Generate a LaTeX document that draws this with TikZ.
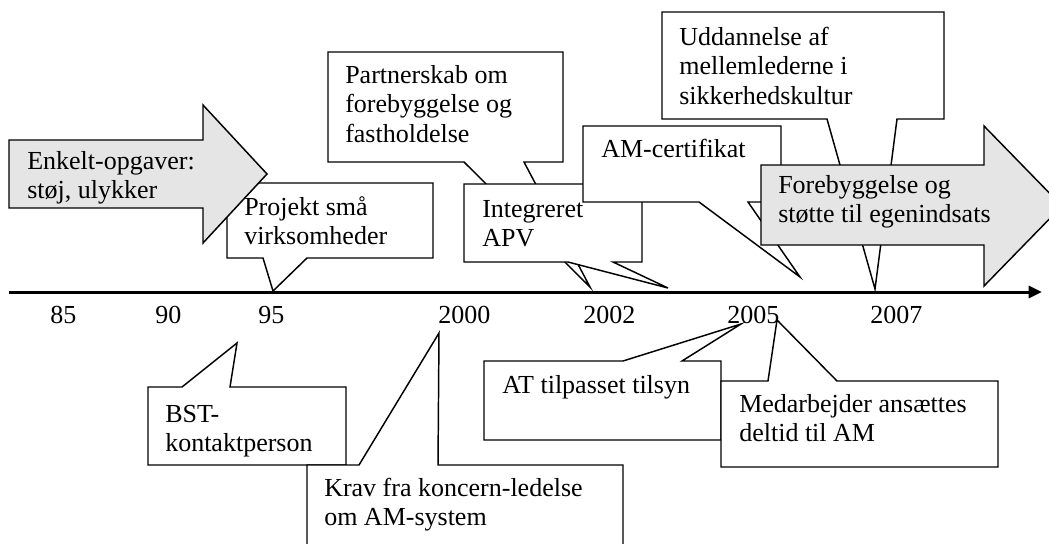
\documentclass[tikz,border=0pt]{standalone}
\usepackage{fontspec}
\setmainfont{Liberation Serif}
\usetikzlibrary{arrows.meta}
% top-aligned block of lines: baseline of the block is the first line
\newcommand\txtlines[1]{\begin{tabular}[t]{@{}l@{}}#1\end{tabular}}
\begin{document}
\begin{tikzpicture}[x=0.75pt, y=-0.75pt,
  outline/.style={draw=black, line width=1.1pt, line join=miter},
  callout/.style={outline, fill=white},
  banner/.style={outline, fill=black!10},
  boxtext/.style={anchor=base west, inner sep=0pt, font=\fontsize{19.5pt}{22.2pt}\selectfont},
  axis/.style={line width=2.25pt, -{Triangle[length=10pt,width=9pt]}}]

\useasboundingbox (0,0) rectangle (1049,543);
\clip (0,0) rectangle (1049,543);

% ---------- upper callouts (back to front) ----------
% Partnerskab
\draw[callout] (328,52) -- (563,52) -- (563,162) -- (524,162) -- (590,287)
  -- (464,162) -- (328,162) -- cycle;
\node[boxtext] (t-partner) at (345,83) {\txtlines{Partnerskab om\\forebyggelse og\\fastholdelse}};

% Integreret APV
\draw[callout] (464,184) -- (642,184) -- (642,262) -- (613,262) -- (668,288)
  -- (568,262) -- (464,262) -- cycle;
\node[boxtext] (t-apv) at (482,217) {\txtlines{Integreret\\APV}};

% AM-certifikat
\draw[callout] (583,126) -- (781,126) -- (781,202) -- (748,202) -- (800,277)
  -- (699,202) -- (583,202) -- cycle;
\node[boxtext] (t-cert) at (601,157) {AM-certifikat};

% Uddannelse
\draw[callout] (662,12) -- (944,12) -- (944,119) -- (897,119) -- (875,289)
  -- (827,119) -- (662,119) -- cycle;
\node[boxtext] (t-udd) at (679,45) {\txtlines{Uddannelse af\\mellemlederne i\\sikkerhedskultur}};

% Forebyggelse banner arrow
\draw[banner] (761,165) -- (984,165) -- (984,126) -- (1062,206) -- (984,286)
  -- (984,245) -- (761,245) -- cycle;
\node[boxtext] (t-fore) at (778,193) {\txtlines{Forebyggelse og\\støtte til egenindsats}};

% Projekt små virksomheder
\draw[callout] (227,183) -- (433,183) -- (433,258) -- (307,258) -- (273,291)
  -- (263,258) -- (227,258) -- cycle;
\node[boxtext] (t-proj) at (244,215) {\txtlines{Projekt små\\virksomheder}};

% Enkelt-opgaver banner arrow
\draw[banner] (9,140) -- (203,140) -- (203,105) -- (267,174) -- (203,243)
  -- (203,208) -- (9,208) -- cycle;
\node[boxtext] (t-enkelt) at (27,169) {\txtlines{Enkelt-opgaver:\\støj, ulykker}};

% ---------- time axis ----------
\coordinate (axis-start) at (9,292);
\coordinate (axis-end) at (1042,292);
\draw[axis] (axis-start) -- (axis-end);

\node[boxtext] (y85)   at (50,323)  {85};
\node[boxtext] (y90)   at (155,323) {90};
\node[boxtext] (y95)   at (258,323) {95};
\node[boxtext] (y2000) at (438,323) {2000};
\node[boxtext] (y2002) at (583,323) {2002};
\node[boxtext] (y2005) at (727,323) {2005};
\node[boxtext] (y2007) at (870,323) {2007};

% ---------- lower callouts ----------
% BST-kontaktperson
\draw[callout] (148,387) -- (182,387) -- (237,343) -- (230,387) -- (346,387)
  -- (346,465) -- (148,465) -- cycle;
\node[boxtext] (t-bst) at (165,422) {\txtlines{BST-\\kontaktperson}};

% Krav fra koncernledelse
\draw[callout] (307,465) -- (359,465) -- (439,333) -- (438,465) -- (623,465)
  -- (623,560) -- (307,560) -- cycle;
\node[boxtext] (t-krav) at (324,496) {\txtlines{Krav fra koncern-ledelse\\om AM-system}};

% AT tilpasset tilsyn
\draw[callout] (484,361) -- (623,361) -- (741,324) -- (682,361) -- (721,361)
  -- (721,440) -- (484,440) -- cycle;
\node[boxtext] (t-at) at (502,393) {AT tilpasset tilsyn};

% Medarbejder
\draw[callout] (721,381) -- (768,381) -- (777,320) -- (837,381) -- (998,381)
  -- (998,467) -- (721,467) -- cycle;
\node[boxtext] (t-med) at (739,412) {\txtlines{Medarbejder ansættes\\deltid til AM}};

\end{tikzpicture}
\end{document}
